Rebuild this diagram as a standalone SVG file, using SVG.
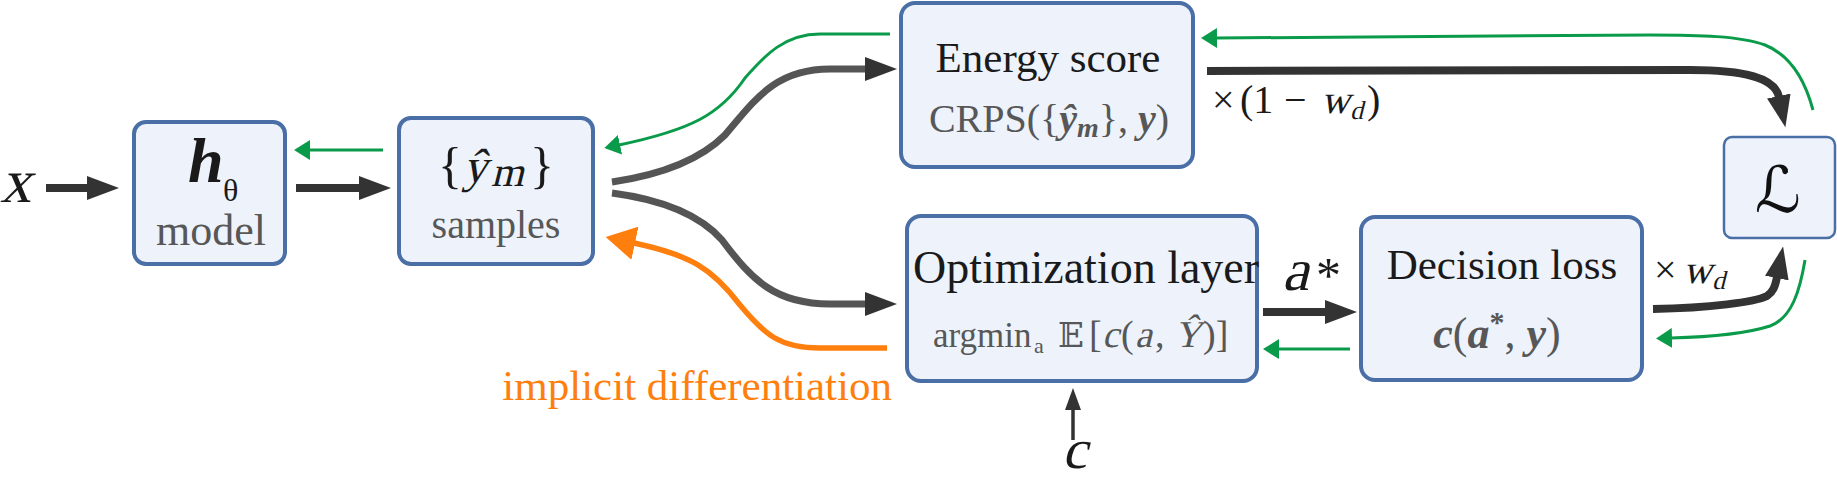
<svg xmlns="http://www.w3.org/2000/svg" width="1837" height="479" viewBox="0 0 1837 479">
<style>
.box{fill:#EDF2FB;stroke:#4A6EA6;stroke-width:4}
.lbox{fill:#EDF2FB;stroke:#4A6EA6;stroke-width:2.5}
.t{font-family:"Liberation Serif","Times New Roman",serif;fill:#1a1a1a}
.g{fill:#575757}
.bi{font-family:"Liberation Serif",serif;font-style:italic;font-weight:bold}
.dk{fill:none;stroke:#333;stroke-width:8}
.dc{fill:none;stroke:#555;stroke-width:7}
.gr{fill:none;stroke:#0A9B4A;stroke-width:3}
.or{fill:none;stroke:#FF7F0E;stroke-width:5.5}
</style>
<defs>
<marker id="aD" markerUnits="userSpaceOnUse" markerWidth="32" markerHeight="24" viewBox="0 0 32 24" refX="1" refY="12" orient="auto"><path d="M0,0 L32,12 L0,24 z" fill="#333"/></marker>
<marker id="aG" markerUnits="userSpaceOnUse" markerWidth="16" markerHeight="20" viewBox="0 0 16 20" refX="1" refY="10" orient="auto"><path d="M0,0 L16,10 L0,20 z" fill="#0A9B4A"/></marker>
<marker id="aO" markerUnits="userSpaceOnUse" markerWidth="30" markerHeight="34" viewBox="0 0 30 34" refX="1" refY="17" orient="auto"><path d="M0,0 L30,17 L0,34 z" fill="#FF7F0E"/></marker>
<marker id="aS" markerUnits="userSpaceOnUse" markerWidth="22" markerHeight="16" viewBox="0 0 22 16" refX="1" refY="8" orient="auto"><path d="M0,0 L22,8 L0,16 z" fill="#333"/></marker>
</defs>

<g id="connectors">
  <path class="dk" d="M46,188 H88" marker-end="url(#aD)"/>
  <path class="dk" d="M296,188 H360" marker-end="url(#aD)"/>
  <path class="gr" d="M383,150 H309" marker-end="url(#aG)"/>
  <path class="dc" d="M612,182 C660,175 700,160 725,135 C755,100 775,69 830,69 H866" marker-end="url(#aD)"/>
  <path class="dc" d="M612,193 C665,200 700,215 722,240 C752,280 775,304 830,304 H866" marker-end="url(#aD)"/>
  <path class="gr" d="M890,34 H820 C785,34 765,55 745,78 C720,115 690,130 619,145" marker-end="url(#aG)"/>
  <path class="or" d="M887,348 H820 C780,348 765,335 740,305 C712,268 690,255 634,243" marker-end="url(#aO)"/>
  <path class="dk" d="M1263,312 H1326" marker-end="url(#aD)"/>
  <path class="gr" d="M1350,349 H1278" marker-end="url(#aG)"/>
  <path fill="none" stroke="#333" stroke-width="3.5" d="M1073,440 V409" marker-end="url(#aS)"/>
  <path class="dk" stroke-width="7" d="M1207,71 L1690,70 C1745,70 1775,78 1779,97" marker-end="url(#aD)"/>
  <path class="gr" d="M1813,110 C1805,80 1790,55 1765,45 C1740,36 1700,35 1650,35 L1216,38" marker-end="url(#aG)"/>
  <path class="dk" stroke-width="7" d="M1653,309 C1710,308 1755,302 1767,296 C1773,292 1775,287 1777,277" marker-end="url(#aD)"/>
  <path class="gr" d="M1805,260 C1800,290 1792,318 1770,326 C1745,334 1710,337 1671,338" marker-end="url(#aG)"/>
</g>

<g id="input-x">
  <text class="t" transform="translate(0,202) skewX(-14)" font-size="62">x</text>
</g>

<g id="node-model">
  <rect class="box" x="134" y="122" width="151" height="142" rx="12"/>
  <text class="bi" x="188" y="182" font-size="64" fill="#1a1a1a">h</text>
  <text class="t" x="223" y="201" font-size="32">θ</text>
  <text class="t g" x="211" y="245" font-size="44" text-anchor="middle">model</text>
</g>

<g id="node-samples">
  <rect class="box" x="399" y="118" width="194" height="146" rx="12"/>
  <text class="t" x="438" y="182" font-size="50">{</text>
  <text class="t" transform="translate(463,182) skewX(-14)" font-size="48">ŷ</text>
  <text class="t" transform="translate(491,186) skewX(-14)" font-size="42">m</text>
  <text class="t" x="530" y="182" font-size="50">}</text>
  <text class="t g" x="496" y="238" font-size="40" text-anchor="middle">samples</text>
</g>

<g id="node-energy">
  <rect class="box" x="901" y="3" width="292" height="164" rx="14"/>
  <text class="t" x="1048" y="72" font-size="43" text-anchor="middle">Energy score</text>
  <text class="t g" x="1049" y="132" font-size="40" text-anchor="middle">CRPS({<tspan class="bi">ŷ</tspan><tspan class="bi" font-size="28" dy="5">m</tspan><tspan dy="-5">}, </tspan><tspan class="bi">y</tspan>)</text>
</g>

<g id="node-opt">
  <rect class="box" x="907" y="216" width="350" height="165" rx="14"/>
  <text class="t" x="1086" y="283" font-size="46" text-anchor="middle">Optimization layer</text>
  <text class="t g" x="933" y="347" font-size="35">argmin</text>
  <text class="t g" x="1034" y="353" font-size="22">a</text>
  <text class="g" x="1058" y="347" font-size="34" font-family="DejaVu Serif, DejaVu Sans, serif">𝔼</text>
  <text class="t g" x="1089" y="347" font-size="38">[</text>
  <text class="t g" transform="translate(1102,347) skewX(-14)" font-size="38">c</text>
  <text class="t g" x="1121" y="347" font-size="38">(</text>
  <text class="t g" transform="translate(1135,347) skewX(-14)" font-size="38">a</text>
  <text class="t g" x="1155" y="347" font-size="38">,</text>
  <text class="t g" transform="translate(1174,347) skewX(-14)" font-size="38">Ŷ</text>
  <text class="t g" x="1203" y="347" font-size="38">)]</text>
</g>

<g id="label-c">
  <text class="t" transform="translate(1062,468) skewX(-14)" font-size="56">c</text>
</g>

<g id="label-astar">
  <text class="t" transform="translate(1282,290) skewX(-14)" font-size="60">a</text>
  <text class="t" x="1316" y="292" font-size="50">*</text>
</g>

<g id="node-decision">
  <rect class="box" x="1361" y="217" width="281" height="163" rx="14"/>
  <text class="t" x="1502" y="279" font-size="43" text-anchor="middle">Decision loss</text>
  <text class="t g" x="1497" y="348" font-size="44" text-anchor="middle"><tspan class="bi">c</tspan>(<tspan class="bi">a</tspan><tspan font-weight="bold" font-size="30" dy="-16">*</tspan><tspan dy="16">, </tspan><tspan class="bi">y</tspan>)</text>
</g>

<g id="node-L">
  <rect class="lbox" x="1724" y="137" width="111" height="101" rx="8"/>
  <text x="1778" y="212" font-size="64" text-anchor="middle" font-family="DejaVu Serif, DejaVu Sans, serif" fill="#111">ℒ</text>
</g>

<g id="labels">
  <text class="t" x="1212" y="113" font-size="40">×</text>
  <text class="t" x="1240" y="113" font-size="40">(1</text>
  <text class="t" x="1284" y="113" font-size="40">−</text>
  <text class="t" transform="translate(1321,113) skewX(-14)" font-size="40">w</text>
  <text class="t" transform="translate(1350,119) skewX(-14)" font-size="26">d</text>
  <text class="t" x="1367" y="113" font-size="40">)</text>
  <text class="t" x="1654" y="283" font-size="40">×</text>
  <text class="t" transform="translate(1683,283) skewX(-14)" font-size="40">w</text>
  <text class="t" transform="translate(1712,289) skewX(-14)" font-size="26">d</text>
  <text class="t" x="892" y="400" font-size="43" text-anchor="end" style="fill:#FF7F0E">implicit differentiation</text>
</g>
</svg>
